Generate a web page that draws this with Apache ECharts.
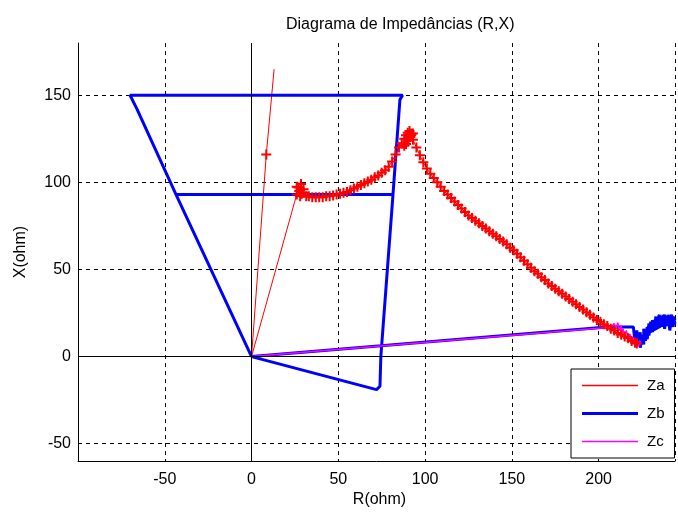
<!DOCTYPE html>
<html>
<head>
<meta charset="utf-8">
<title>Diagrama de Impedâncias (R,X)</title>
<script src="https://cdn.jsdelivr.net/npm/echarts@6/dist/echarts.min.js"></script>
<style>
html, body { margin: 0; padding: 0; background: #fff; }
#chart-div { width: 678px; height: 513px; }
</style>
</head>
<body>
<div id="chart-div"></div>
<script>
// Za - trajetória da fase A (R, X)
var ZA_R = [13, 8.5, 0, 26, 27, 28.5, 30, 29, 27.5, 26, 28, 30, 31.5, 33, 35, 37,
	39, 41, 43, 45, 47, 49, 51, 53, 55, 57, 59, 61, 63, 65, 67, 69, 71, 73, 75,
	77, 79, 81, 83, 85, 86.5, 88, 89, 90, 91, 92, 90.5, 89, 88, 90, 91.5, 93,
	92, 93, 95, 97, 99, 101, 103, 105, 107, 109, 111, 113, 115, 117, 119, 121, 123,
	125, 127, 129, 131, 133, 135, 137, 139, 141, 143, 145, 147, 149, 151, 153,
	155, 157, 159, 161, 163, 165, 167, 169, 171, 173, 175, 177, 179, 181, 183,
	185, 187, 189, 191, 193, 195, 197, 199, 201, 203, 205, 207, 209, 211, 213,
	215, 217, 219, 221, 222];
var ZA_X = [165, 116, 0, 93, 97, 99, 96, 93.5, 95, 97.5, 92, 94, 92, 92, 91.5, 91.5,
	91.5, 91.5, 92, 92, 92.5, 93, 93.5, 94, 94.5, 95.5, 96.5, 97.5, 98.5, 99.5,
	100.5, 101.5, 103, 104, 105.5, 107, 109, 112, 116, 120, 122.5, 125, 127,
	128.5, 129.5, 128, 124, 122, 121, 125, 126, 128,
	127, 124.5, 120, 115.5, 111.5, 108, 105, 102.5, 100, 97.5, 95, 93, 91, 89, 87, 85,
	83, 81, 79.5, 78, 76.5, 75, 73.5, 72, 70.5, 69, 67.5, 66, 64.5, 62.5, 61, 59,
	57, 55, 53, 51, 49, 47.5, 45.5, 44, 42, 40.5, 39, 37.5, 36, 34.5, 33, 31.5,
	30, 28.5, 27, 25.5, 24, 22.5, 21, 20, 18.5, 17.5, 16, 15, 13.5, 12.5, 11.5,
	10.5, 9, 8, 7.5];

// Zb - trajetória da fase B
var ZB_R = [244, 242, 240, 238, 236, 234, 232, 230, 228, 226, 224, 222,
	244, 243, 242, 241, 240, 239, 238, 237, 236, 235, 234, 233, 232, 231,
	244, 243, 243, 242, 241, 240, 240, 239, 238, 237, 237, 236, 235, 235, 234,
	233, 233, 232, 231, 231, 230, 229, 229, 228, 228, 227, 226, 226, 225, 224,
	224, 223, 222, 221, 220, 219, 205, 0, 72, 74, 74.5, 81.5, 85.5, 87,
	-70, -66, -43.5, 82, -43.5, 0];
var ZB_X = [19, 18, 20, 21, 19, 18, 17, 16, 14, 11, 9, 10,
	22, 20, 24, 21, 23, 20, 24, 21, 23, 19, 22, 18, 21, 17,
	19, 23, 17, 22, 15, 24, 18, 23, 16, 24, 18, 22, 17, 24, 21,
	16, 23, 15, 21, 14, 20, 12, 19, 10, 17, 9, 16, 7, 12, 5,
	14, 6, 15, 8, 17, 17, 17, 0, -19, -17, 0, 93, 147.5, 150,
	150, 142, 93, 93, 93, 0];

// Zc - trajetória da fase C
var ZC_R = [0, 207, 209, 210, 211, 212, 213, 213, 214, 215, 216, 217, 218, 219,
	220, 221, 222, 223, 224, 223];
var ZC_X = [0, 16.8, 19, 16, 19.5, 15, 18, 13, 16, 12, 15, 10, 13, 8, 11, 7, 10,
	6, 9, 8];

// marcador "+" do MATLAB
var PLUS = "path://M6,0 H9 V6 H15 V9 H9 V15 H6 V9 H0 V6 H6 Z";
var FONT = "Liberation Sans, Arial, sans-serif";

function pares(r, x) {
	return Array.from(r, (v, i) => [v, x[i]]);
}

// pontos de Za: o primeiro e a origem sem marcador
var g_za_data = pares(ZA_R, ZA_X).map((p, i) =>
	(i === 0 || i === 2) ? { value: p, symbol: "none" } : p);

var g_chart_option = {
	animation: false,
	backgroundColor: "#fff",
	title: {
		text: "Diagrama de Impedâncias (R,X)",
		left: 281,
		top: 12,
		textStyle: {
			fontFamily: FONT,
			fontSize: 16,
			fontWeight: "normal",
			color: "#000"
		}
	},
	grid: {
		left: 78,
		right: 0,
		top: 43,
		bottom: 50
	},
	legend: {
		// ícones só com a linha, na espessura de cada série
		data: [
			{ name: "Za", icon: "path://M0,0 H56 V1.5 H0 Z" },
			{ name: "Zb", icon: "path://M0,0 H56 V3 H0 Z" },
			{ name: "Zc", icon: "path://M0,0 H56 V1.5 H0 Z" }
		],
		orient: "vertical",
		left: 571,
		top: 369,
		padding: [9, 10, 9, 11],
		itemWidth: 56,
		itemHeight: 14,
		itemGap: 13,
		borderColor: "#000",
		borderWidth: 1,
		borderRadius: 0,
		backgroundColor: "#fff",
		textStyle: {
			fontFamily: FONT,
			fontSize: 15,
			color: "#000",
			padding: [0, 0, 0, 4]
		}
	},
	xAxis: {
		type: "value",
		min: -100,
		max: 244,
		interval: 50,
		name: "R(ohm)",
		nameLocation: "middle",
		nameGap: 30,
		nameTextStyle: {
			fontFamily: FONT,
			fontSize: 16,
			color: "#000",
			padding: [0, 0, 0, 6]
		},
		axisLine: { onZero: false, lineStyle: { color: "#000" } },
		axisTick: { show: false },
		axisLabel: {
			margin: 10,
			fontFamily: FONT,
			fontSize: 16,
			color: "#000",
			formatter: v => (v % 50 === 0 && v !== -100) ? v : ""
		},
		splitLine: {
			lineStyle: { color: "#000", type: [4, 4], width: 1 }
		}
	},
	yAxis: {
		type: "value",
		min: -60,
		max: 180,
		interval: 10,
		name: "X(ohm)",
		nameLocation: "middle",
		nameGap: 49,
		nameTextStyle: { fontFamily: FONT, fontSize: 16, color: "#000" },
		axisLine: { show: true, onZero: false, lineStyle: { color: "#000" } },
		axisTick: { show: false },
		axisLabel: {
			margin: 7,
			fontFamily: FONT,
			fontSize: 16,
			color: "#000",
			formatter: v => (v % 50 === 0) ? v : ""
		},
		// só as linhas de -50, 0, 50, 100, 150
		splitLine: {
			lineStyle: {
				color: ["rgba(0,0,0,0)", "#000", "rgba(0,0,0,0)",
					"rgba(0,0,0,0)", "rgba(0,0,0,0)"],
				type: [4, 4],
				width: 1
			}
		}
	},
	series: [
		{
			// eixos R=0 e X=0
			type: "line",
			data: [],
			silent: true,
			markLine: {
				silent: true,
				symbol: "none",
				label: { show: false },
				lineStyle: { color: "#000", type: "solid", width: 1 },
				data: [{ xAxis: 0 }, { yAxis: 0 }]
			}
		},
		{
			name: "Za",
			type: "line",
			data: g_za_data,
			symbol: PLUS,
			symbolSize: 10,
			itemStyle: { color: "#ff0000" },
			lineStyle: { color: "#ff0000", width: 1 }
		},
		{
			name: "Zb",
			type: "line",
			data: pares(ZB_R, ZB_X),
			symbol: "none",
			lineStyle: { color: "#0000ff", width: 3 },
			itemStyle: { color: "#0000ff" }
		},
		{
			name: "Zc",
			type: "line",
			data: pares(ZC_R, ZC_X),
			symbol: "none",
			lineStyle: { color: "#ff00ff", width: 1.5 },
			itemStyle: { color: "#ff00ff" }
		}
	]
};

var g_chart = echarts.init(document.getElementById("chart-div"));
g_chart.setOption(g_chart_option);
window.addEventListener("resize", g_chart.resize);
</script>
</body>
</html>
